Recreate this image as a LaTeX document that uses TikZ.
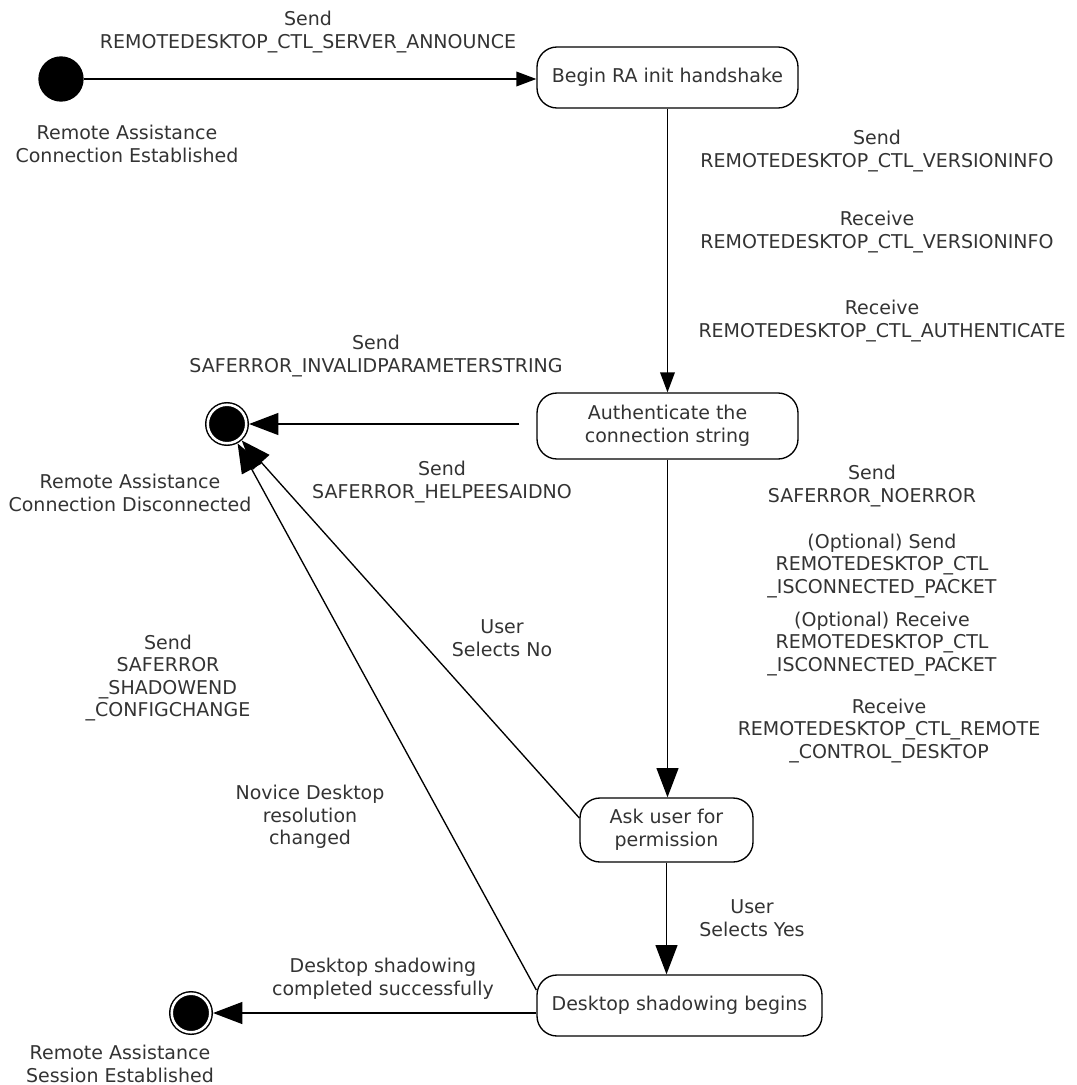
\documentclass[tikz,border=0pt]{standalone}
\usepackage{fontspec}
\setmainfont{DejaVu Sans}
\usetikzlibrary{arrows.meta}
\begin{document}
\begin{tikzpicture}[x=0.75pt,y=-0.75pt,line width=1pt,
    font=\fontsize{14.25}{16.9}\selectfont,
    statebox/.style={draw,rounded corners=15pt,align=center,inner sep=0pt,text=black!80},
    startdot/.style={circle,fill=black,minimum size=34pt,inner sep=0pt},
    enddot/.style={circle,fill=black,draw,line width=1.1pt,double=white,double distance=1.9pt,
      minimum size=28.9pt,inner sep=0pt,outer sep=2.1pt},
    lbl/.style={align=center,inner sep=0pt,text=black!80},
    small/.style={-{Triangle[length=15pt,width=11pt]}},
    big/.style={-{Triangle[length=22pt,width=16.5pt]}}]
  \useasboundingbox (0,0) rectangle (1076,1085);
  % states
  \node[startdot] (start) at (61,79) {};
  \node[statebox,minimum width=195.75pt,minimum height=45.75pt] (begin) at (667.5,77.5) {Begin RA init handshake};
  \node[statebox,minimum width=195.75pt,minimum height=49.5pt] (auth) at (667.5,426) {Authenticate the\\connection string};
  \node[statebox,minimum width=129.75pt,minimum height=48pt] (ask) at (666.5,830) {Ask user for\\permission};
  \node[statebox,minimum width=213.75pt,minimum height=45.75pt] (desk) at (679.5,1005.5) {Desktop shadowing begins};
  \node[enddot] (disc) at (227,424) {};
  \node[enddot] (session) at (191,1013) {};
  % transitions
  \draw[small] (start) -- (start -| begin.west);
  \draw[small] (begin) -- (auth);
  \draw[big,shorten <=12.75pt] (auth.west |- disc) -- (disc);
  \draw[big] (auth.south) -- (auth.south |- ask.north);
  \draw[big] ([yshift=9pt]ask.west) -- (disc);
  \draw[big] (ask.south) -- (ask.south |- desk.north);
  \draw[big] ([yshift=11.6pt]desk.west) -- (disc);
  \draw[big] (desk.west |- session) -- (session);
  % labels
  \node[lbl] (lblannounce) at (308,32) {Send\\REMOTEDESKTOP\_CTL\_SERVER\_ANNOUNCE};
  \node[lbl] (lblstart) at (127,144) {Remote Assistance\\Connection Established};
  \node[lbl] (lblver1) at (877,151) {Send\\REMOTEDESKTOP\_CTL\_VERSIONINFO};
  \node[lbl] (lblver2) at (877,232) {Receive\\REMOTEDESKTOP\_CTL\_VERSIONINFO};
  \node[lbl] (lblauth) at (882,321) {Receive\\REMOTEDESKTOP\_CTL\_AUTHENTICATE};
  \node[lbl] (lblinvalid) at (376,356) {Send\\SAFERROR\_INVALIDPARAMETERSTRING};
  \node[lbl] (lbldisc) at (130,493) {Remote Assistance\\Connection Disconnected};
  \node[lbl] (lblnoerr) at (872,486) {Send\\SAFERROR\_NOERROR};
  \node[lbl] (lbloptsend) at (882,566) {(Optional) Send\\REMOTEDESKTOP\_CTL\\\_ISCONNECTED\_PACKET};
  \node[lbl] (lbloptrecv) at (882,644) {(Optional) Receive\\REMOTEDESKTOP\_CTL\\\_ISCONNECTED\_PACKET};
  \node[lbl] (lblremote) at (889,731) {Receive\\REMOTEDESKTOP\_CTL\_REMOTE\\\_CONTROL\_DESKTOP};
  \node[lbl] (lblhelpee) at (442,482) {Send\\SAFERROR\_HELPEESAIDNO};
  \node[lbl] (lblno) at (502,638) {User\\Selects No};
  \node[lbl] (lblshadowend) at (168,678) {Send\\SAFERROR\\\_SHADOWEND\\\_CONFIGCHANGE};
  \node[lbl] (lblnovice) at (310,817) {Novice Desktop\\resolution\\changed};
  \node[lbl] (lblyes) at (752,918) {User\\Selects Yes};
  \node[lbl] (lbldone) at (383,979) {Desktop shadowing\\completed successfully};
  \node[lbl] (lblsession) at (120,1064) {Remote Assistance\\Session Established};
\end{tikzpicture}
\end{document}
